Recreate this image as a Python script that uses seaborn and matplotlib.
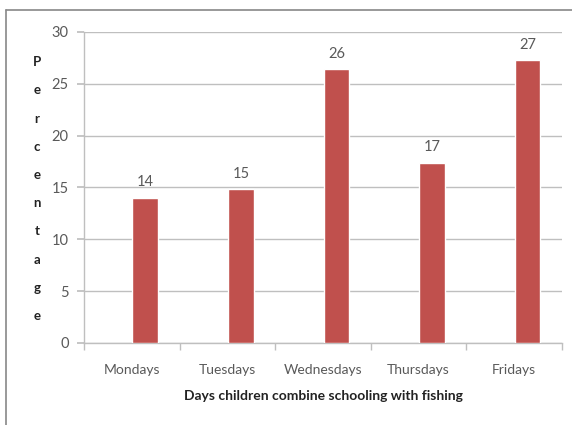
import matplotlib
matplotlib.use("Agg")
import matplotlib.pyplot as plt
import pandas as pd
import seaborn as sns
from matplotlib.lines import Line2D
from matplotlib.ticker import FixedLocator

# Dados
days = ["Mondays", "Tuesdays", "Wednesdays", "Thursdays", "Fridays"]
percent = [14.0, 14.8, 26.4, 17.4, 27.3]
y_ticks = [0, 5, 10, 15, 20, 25, 30]

BAR = "#C0504D"
GRID = "#BFBFBF"
TXT = "#595959"

sns.set_theme(style="white")
plt.rcParams["font.family"] = ["Lato", "DejaVu Sans"]

df = pd.DataFrame({"day": days, "pct": percent})

fig = plt.figure(figsize=(5.72, 4.25), dpi=100)
ax = fig.add_axes([0.147, 0.193, 0.8355, 0.732])

sns.barplot(data=df, x="day", y="pct", color=BAR, width=0.27,
            saturation=1, ax=ax, zorder=3)
# no Excel as barras ficam deslocadas para a direita (série vazia ao lado)
for p in ax.containers[0]:
    p.set_x(p.get_x() + 0.14)
ax.bar_label(ax.containers[0], fmt="%.0f", padding=6, fontsize=10.5, color=TXT)

ax.set_xlim(-0.5, 4.5)
ax.set_ylim(0, 30)
ax.set_yticks(y_ticks)
ax.yaxis.grid(True, color=GRID, linewidth=1, zorder=0)

# eixos
for s in ["top", "right"]:
    ax.spines[s].set_visible(False)
for s in ["left", "bottom"]:
    ax.spines[s].set_color(GRID)
    ax.spines[s].set_linewidth(1)

ax.tick_params(axis="y", left=True, length=5, color=GRID, labelsize=10.5,
               labelcolor=TXT, pad=6)
ax.tick_params(axis="x", which="major", length=0, labelsize=10,
               labelcolor=TXT, pad=15)
ax.xaxis.set_minor_locator(FixedLocator([-0.5, 0.5, 1.5, 2.5, 3.5, 4.5]))
ax.tick_params(axis="x", which="minor", bottom=True, length=5, color=GRID)

ax.set_xlabel("Days children combine schooling with fishing",
              fontsize=10, fontweight="bold", color="#222222", labelpad=10)
ax.set_ylabel("")
fig.text(0.065, 0.555, "\n".join("Percentage"), ha="center", va="center",
         fontsize=9.5, fontweight="bold", color="#222222", linespacing=2.62)

# moldura do gráfico (cortada à direita e em baixo)
fig.add_artist(Line2D([0.0105, 1.0], [0.976, 0.976], color="#888888", lw=1.2))
fig.add_artist(Line2D([0.0105, 0.0105], [0.0, 0.976], color="#888888", lw=1.2))

plt.savefig("out.png", dpi=100)
plt.close()
